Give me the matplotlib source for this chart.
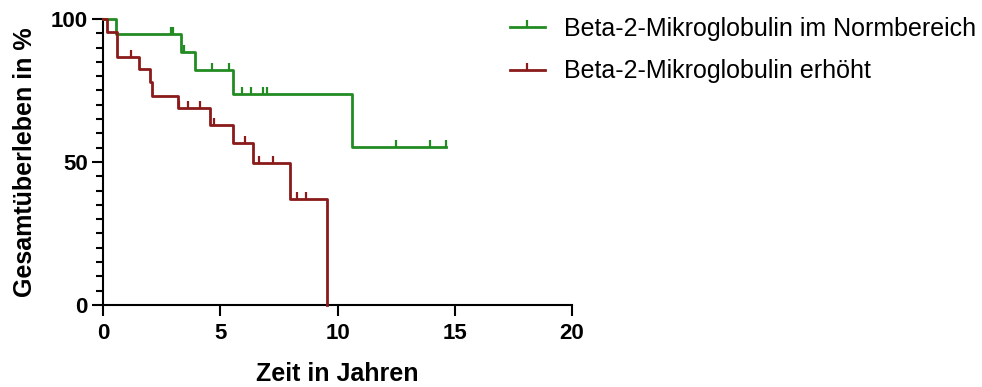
import matplotlib
matplotlib.use("Agg")
import matplotlib.pyplot as plt
import numpy as np
from matplotlib.ticker import MultipleLocator

plt.rcParams['font.family'] = ['Liberation Sans', 'DejaVu Sans']

# Kaplan-Meier step curves: event times (years) and survival level (%) after each step
normal_times = [0.0, 0.55, 3.31, 3.92, 5.53, 10.63]
normal_surv = [100.0, 94.7, 88.6, 82.0, 73.7, 55.3]
normal_end = 14.63
normal_censored = [2.9, 3.0, 3.47, 4.63, 5.39, 5.94, 6.31, 6.84, 7.01, 12.49, 13.94, 14.63]

high_times = [0.0, 0.19, 0.58, 1.55, 2.0, 2.1, 3.21, 4.56, 5.56, 6.38, 7.97, 9.54]
high_surv = [100.0, 95.3, 86.8, 82.4, 78.0, 73.2, 68.8, 63.1, 56.7, 49.8, 37.2, 0.0]
high_end = 9.54
high_censored = [1.18, 3.25, 3.61, 4.14, 4.73, 6.06, 6.67, 7.26, 8.29, 8.64]

labels = ["Beta-2-Mikroglobulin im Normbereich", "Beta-2-Mikroglobulin erhöht"]
colors = ["#228B22", "#8B1A1A"]

x_ticks = [0, 5, 10, 15, 20]
y_ticks = [0, 50, 100]


def step_at(times, surv, t):
    idx = np.searchsorted(times, t, side="right") - 1
    return surv[idx]


fig = plt.figure(figsize=(9.82, 3.87), dpi=100)
ax = fig.add_axes([0.1049, 0.2119, 0.4776, 0.7390])

series = [
    (normal_times, normal_surv, normal_end, normal_censored),
    (high_times, high_surv, high_end, high_censored),
]
handles = []
for (times, surv, end, cens), col, lab in zip(series, colors, labels):
    xs = list(times) + [end]
    ys = list(surv) + [surv[-1]]
    ax.step(xs, ys, where="post", color=col, lw=2.0, clip_on=False, zorder=3)
    cy = [step_at(times, surv, c) for c in cens]
    ax.plot(cens, cy, ls="none", marker=2, ms=5, mew=1.6, color=col,
            clip_on=False, zorder=3)
    h, = ax.plot([], [], color=col, lw=2.0, marker=2, ms=5, mew=1.6)
    handles.append(h)

ax.set_xlim(0, 20)
ax.set_ylim(0, 100)
ax.set_xticks(x_ticks)
ax.set_yticks(y_ticks)
ax.yaxis.set_minor_locator(MultipleLocator(5))

for side in ("top", "right"):
    ax.spines[side].set_visible(False)
for side in ("left", "bottom"):
    ax.spines[side].set_linewidth(1.5)
    ax.spines[side].set_color("black")

ax.tick_params(axis="both", which="major", length=8, width=1.5, direction="out",
               labelsize=16)
ax.tick_params(axis="y", which="major", pad=3)
ax.tick_params(axis="x", which="major", pad=5)
ax.tick_params(axis="y", which="minor", length=5, width=1.5, direction="out")
for lbl in ax.get_xticklabels() + ax.get_yticklabels():
    lbl.set_fontweight("bold")

ax.set_xlabel("Zeit in Jahren", fontsize=18, fontweight="bold", labelpad=13)
ax.set_ylabel("Gesamtüberleben in %", fontsize=18, fontweight="bold", labelpad=10)

fig.legend(handles, labels, loc="upper left", bbox_to_anchor=(0.505, 0.992),
           frameon=False, fontsize=18, handlelength=1.4, handletextpad=0.76,
           labelspacing=0.74, borderpad=0.05, numpoints=1)

fig.savefig("out.png", dpi=100)
